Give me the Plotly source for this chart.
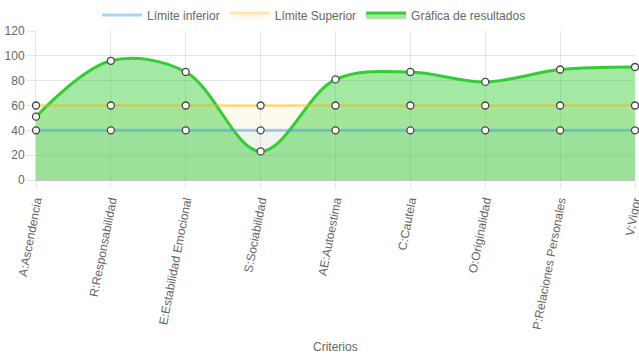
import plotly.graph_objects as go

categorias = ["A:Ascendencia", "R:Responsabilidad", "E:Estabilidad Emocional",
              "S:Sociabilidad", "AE:Autoestima", "C:Cautela", "O:Originalidad",
              "P:Relaciones Personales", "V:Vigor"]
limite_inferior = [40, 40, 40, 40, 40, 40, 40, 40, 40]
limite_superior = [60, 60, 60, 60, 60, 60, 60, 60, 60]
resultados = [51, 96, 87, 23, 81, 87, 79, 89, 91]

FONT = "Liberation Sans, Arial, Helvetica, sans-serif"
GREY = "#666666"

BLUE_LINE = "rgba(54,162,235,0.45)"
YELLOW_LINE = "rgba(255,205,86,0.45)"

fig = go.Figure()

# fills (limits first so the green area sits on top)
fig.add_trace(go.Scatter(
    x=categorias, y=limite_superior, name="Límite Superior", mode="lines",
    line=dict(color=YELLOW_LINE, width=3),
    fill="tozeroy", fillcolor="rgba(255,215,110,0.12)",
    legendrank=2, cliponaxis=False))
fig.add_trace(go.Scatter(
    x=categorias, y=limite_inferior, name="Límite inferior", mode="lines",
    line=dict(color="rgba(0,0,0,0)", width=3),
    fill="tozeroy", fillcolor="rgba(54,162,235,0.07)",
    legendrank=1, cliponaxis=False, showlegend=False))
fig.add_trace(go.Scatter(
    x=categorias, y=resultados, name="Gráfica de resultados", mode="lines",
    line=dict(color="rgb(50,205,50)", width=3, shape="spline", smoothing=1.0),
    fill="tozeroy", fillcolor="rgba(50,205,50,0.45)",
    legendrank=3, cliponaxis=False))

# limit lines drawn on top of the green fill
fig.add_trace(go.Scatter(x=categorias, y=limite_inferior, name="Límite inferior",
                         mode="lines", legendrank=1, hoverinfo="skip",
                         line=dict(color=BLUE_LINE, width=3),
                         fill="none", cliponaxis=False))
fig.add_trace(go.Scatter(x=categorias, y=limite_superior, mode="lines",
                         showlegend=False, hoverinfo="skip",
                         line=dict(color="rgba(255,205,86,0.25)", width=3),
                         cliponaxis=False))

# point markers on top
for serie in (limite_superior, limite_inferior, resultados):
    fig.add_trace(go.Scatter(
        x=categorias, y=serie, mode="markers", showlegend=False, cliponaxis=False,
        marker=dict(size=7, color="white", line=dict(color="#444444", width=1.3))))

fig.update_layout(
    width=639, height=360,
    margin=dict(l=36, r=4, t=31, b=180, autoexpand=False),
    paper_bgcolor="white", plot_bgcolor="white",
    font=dict(family=FONT, size=12, color=GREY),
    showlegend=True,
    legend=dict(orientation="h", x=0.4914, xanchor="center", xref="container",
                y=0.9583, yanchor="middle", yref="container",
                bgcolor="rgba(0,0,0,0)",
                font=dict(family=FONT, size=12, color=GREY), itemwidth=40,
                traceorder="normal"),
    xaxis=dict(type="category", range=[0, len(categorias) - 1], automargin=False,
               showgrid=True, gridcolor="rgba(0,0,0,0.1)",
               showline=True, linecolor="rgba(0,0,0,0.25)",
               ticks="outside", ticklen=8, tickcolor="rgba(0,0,0,0.1)",
               tickangle=-79, tickfont=dict(size=12, color=GREY),
               zeroline=False),
    yaxis=dict(range=[0, 120], dtick=20, automargin=False,
               showgrid=True, gridcolor="rgba(0,0,0,0.1)",
               showline=True, linecolor="rgba(0,0,0,0.1)",
               ticks="outside", ticklen=8, tickcolor="rgba(0,0,0,0.1)",
               tickfont=dict(size=12, color=GREY), zeroline=False),
    annotations=[dict(text="Criterios", xref="paper", yref="paper", x=0.5,
                      y=-(347 - 180) / 149, xanchor="center", yanchor="middle",
                      showarrow=False, font=dict(family=FONT, size=12, color=GREY))],
)

# remove the default 8px page margin so the figure sits at the window origin
fig.write_html("out.html",
               config={"displayModeBar": False},
               post_script="document.body.style.margin='0';"
                           "document.body.style.overflow='hidden';")
